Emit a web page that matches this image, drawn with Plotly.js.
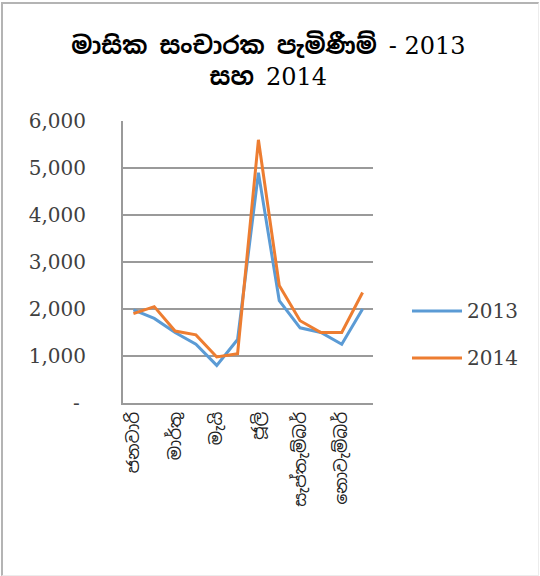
<!DOCTYPE html>
<html>
<head>
<meta charset="utf-8">
<script src="https://cdn.plot.ly/plotly-3.0.1.min.js"></script>
<style>
html,body{margin:0;padding:0;background:#fff;}
#wrap{position:relative;width:540px;height:576px;}
#chart{position:absolute;left:0;top:0;width:540px;height:576px;}
#frame{position:absolute;left:1px;top:2px;width:535px;height:571px;border-left:2px solid #b4b4b4;border-top:2px solid #b4b4b4;border-right:1px solid #ececec;border-bottom:1px solid #ececec;pointer-events:none;}
</style>
</head>
<body>
<div id="wrap"><div id="chart"></div><div id="frame"></div></div>
<script>
var months = ["ජනවාරි","පෙබරවාරි","මාර්තු","අප්‍රේල්","මැයි","ජූනි","ජූලි","අගෝස්තු","සැප්තැම්බර්","ඔක්තෝබර්","නොවැම්බර්","දෙසැම්බර්"];
var arrivals2013 = [1980, 1800, 1500, 1250, 800, 1350, 4900, 2180, 1600, 1500, 1250, 2000];
var arrivals2014 = [1900, 2050, 1530, 1450, 980, 1050, 5600, 2500, 1750, 1500, 1500, 2350];
var seriesNames = ["2013", "2014"];
var yTickVals = [0, 1000, 2000, 3000, 4000, 5000, 6000];
var yTickText = ["-\u00a0", "1,000", "2,000", "3,000", "4,000", "5,000", "6,000"];
var xTickVals = [months[0], months[2], months[4], months[6], months[8], months[10]];

var sinFont = "'Noto Sans Sinhala','Noto Serif Sinhala','Iskoola Pota','DejaVu Serif',serif";
var numFont = "'DejaVu Serif','Liberation Serif',serif";
var colors = ["#5B9BD5", "#ED7D31"];

var traces = [
  {x: months, y: arrivals2013, type: "scatter", mode: "lines", name: seriesNames[0], line: {color: colors[0], width: 3}, showlegend: false},
  {x: months, y: arrivals2014, type: "scatter", mode: "lines", name: seriesNames[1], line: {color: colors[1], width: 3}, showlegend: false}
];

var legY = [0.326, 0.160];
var shapes = [], annotations = [];
for (var i = 0; i < 2; i++) {
  shapes.push({type: "line", xref: "paper", yref: "paper", x0: 1.156, x1: 1.356, y0: legY[i], y1: legY[i], line: {color: colors[i], width: 3}});
  annotations.push({xref: "paper", yref: "paper", x: 1.368, y: legY[i], xanchor: "left", yanchor: "middle", text: seriesNames[i], showarrow: false, font: {family: numFont, size: 20, color: "#404040"}});
}

var numSpan = function (t) { return "<span style=\"font-family:'DejaVu Serif',serif;font-weight:normal\">" + t + "</span>"; };

var layout = {
  width: 540, height: 576,
  margin: {l: 123, r: 167, t: 121, b: 173},
  paper_bgcolor: "#ffffff", plot_bgcolor: "#ffffff",
  title: {text: "මාසික සංචාරක පැමිණීම් " + numSpan("- 2013") + "<br>සහ " + numSpan("2014"),
          x: 0.497, xref: "container", xanchor: "center", y: 0.906, yref: "container", yanchor: "middle",
          font: {family: sinFont, size: 24, color: "#000000", weight: "bold"}},
  xaxis: {type: "category", range: [-0.5, 11.5], tickmode: "array", tickvals: xTickVals, ticktext: xTickVals,
          tickangle: -90, showgrid: false, showline: true, linecolor: "#9a9a9a", linewidth: 2, ticks: "", zeroline: false,
          tickfont: {family: sinFont, size: 17, color: "#222"}, fixedrange: true},
  yaxis: {range: [0, 6000], tickmode: "array", tickvals: yTickVals, ticktext: yTickText,
          showgrid: true, gridcolor: "#9a9a9a", gridwidth: 1.5, showline: true, linecolor: "#9a9a9a", linewidth: 2,
          zeroline: false, ticks: "", ticklabelstandoff: 31,
          tickfont: {family: numFont, size: 20, color: "#404040"}, fixedrange: true},
  shapes: shapes,
  annotations: annotations,
  showlegend: false
};

Plotly.newPlot("chart", traces, layout, {displayModeBar: false, staticPlot: true});
</script>
</body>
</html>
